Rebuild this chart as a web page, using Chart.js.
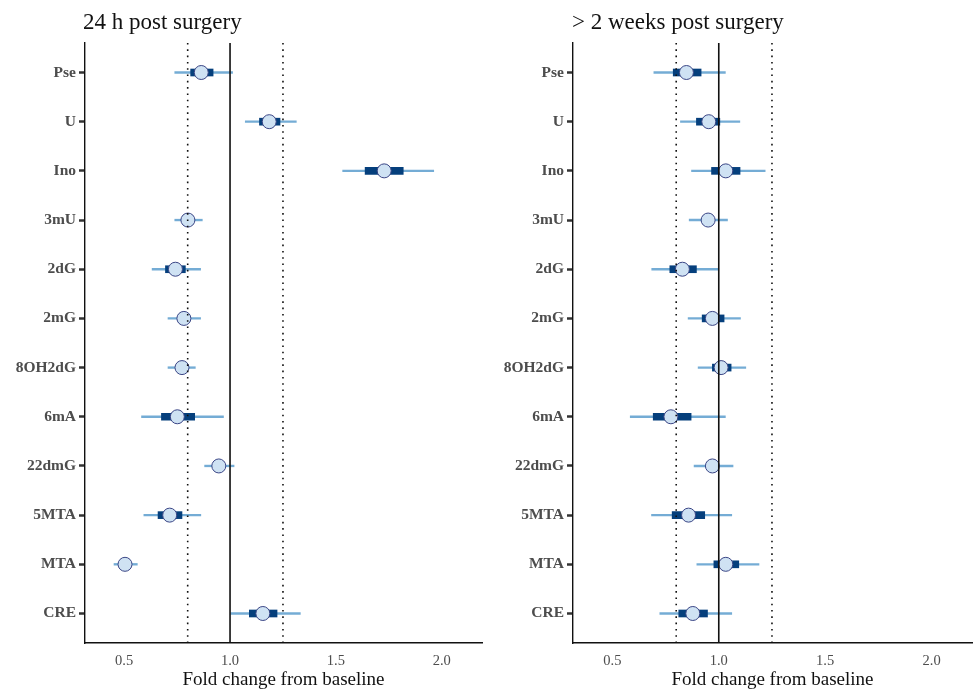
<!DOCTYPE html>
<html><head><meta charset="utf-8">
<script src="https://cdn.jsdelivr.net/npm/chart.js@4.4.1/dist/chart.umd.min.js"></script>
<style>
html,body{margin:0;padding:0;background:#fff;width:973px;height:691px;overflow:hidden;position:relative;}
#c1{position:absolute;left:0;top:0;}
#c2{position:absolute;left:490px;top:0;}
.ttl{position:absolute;top:10px;font-family:"Liberation Serif","Times New Roman",serif;font-size:23px;line-height:23px;color:#111;white-space:nowrap;}
</style></head><body>
<canvas id="c1" width="490" height="691"></canvas>
<canvas id="c2" width="490" height="691"></canvas>
<div class="ttl" style="left:83px">24 h post surgery</div>
<div class="ttl" style="left:572px">&gt; 2 weeks post surgery</div>
<script>
const categories = ["Pse","U","Ino","3mU","2dG","2mG","8OH2dG","6mA","22dmG","5MTA","MTA","CRE"];
const xTicks = [0.5, 1.0, 1.5, 2.0];
const refSolid = [1.0];
const refDotted = [0.8, 1.25];
const panelTitles = ["24 h post surgery", "> 2 weeks post surgery"];
const xTitle = "Fold change from baseline";

// 24 h post surgery
const h24_est   = [0.864, 1.185, 1.728, 0.801, 0.742, 0.782, 0.773, 0.751, 0.947, 0.715, 0.504, 1.155];
const h24_lo95  = [0.739, 1.072, 1.532, 0.739, 0.632, 0.707, 0.707, 0.582, 0.880, 0.593, 0.452, 1.003];
const h24_hi95  = [1.012, 1.313, 1.962, 0.869, 0.861, 0.861, 0.836, 0.969, 1.019, 0.862, 0.562, 1.332];
const h24_lo50  = [0.814, 1.139, 1.638, 0.778, 0.695, 0.755, 0.750, 0.676, 0.925, 0.660, 0.485, 1.091];
const h24_hi50  = [0.920, 1.236, 1.818, 0.823, 0.789, 0.810, 0.795, 0.833, 0.970, 0.773, 0.525, 1.222];

// > 2 weeks post surgery
const w2_est    = [0.848, 0.953, 1.033, 0.950, 0.829, 0.970, 1.011, 0.775, 0.970, 0.858, 1.033, 0.878];
const w2_lo95   = [0.695, 0.820, 0.872, 0.861, 0.685, 0.856, 0.903, 0.584, 0.884, 0.684, 0.897, 0.723];
const w2_hi95   = [1.031, 1.099, 1.218, 1.041, 1.000, 1.102, 1.127, 1.031, 1.067, 1.061, 1.189, 1.061];
const w2_lo50   = [0.786, 0.895, 0.966, 0.925, 0.770, 0.922, 0.970, 0.692, 0.950, 0.781, 0.977, 0.812];
const w2_hi50   = [0.917, 1.005, 1.100, 0.975, 0.895, 1.025, 1.058, 0.870, 0.990, 0.934, 1.094, 0.947];

const SERIF = '"Liberation Serif","Times New Roman",serif';
const Y_MIN = -0.6, Y_MAX = categories.length - 1 + 0.6;

function refLine(v, dotted) {
  return {
    type: 'line',
    data: [{x: v, y: Y_MIN}, {x: v, y: Y_MAX}],
    borderColor: '#111',
    borderWidth: dotted ? 1.6 : 1.6,
    borderDash: dotted ? [1.6, 4.7] : [],
    pointRadius: 0,
    fill: false,
    order: 1
  };
}

function makeChart(id, est, lo95, hi95, lo50, hi50, yWidth, padRight) {
  const datasets = [
    {
      type: 'bar', stack: 's', order: 4,
      data: categories.map((c, i) => ({y: i, x: [lo95[i], hi95[i]]})),
      backgroundColor: '#74acd5', borderWidth: 0, barThickness: 1.7
    },
    {
      type: 'bar', stack: 's', order: 3,
      data: categories.map((c, i) => ({y: i, x: [lo50[i], hi50[i]]})),
      backgroundColor: '#053f7c', borderWidth: 0, barThickness: 7
    },
    {
      type: 'scatter', order: 2,
      data: categories.map((c, i) => ({x: est[i], y: i})),
      pointRadius: 7, pointBackgroundColor: '#cfe2f3', pointBorderColor: '#3a4585', pointBorderWidth: 1
    }
  ];
  refSolid.forEach(v => datasets.push(refLine(v, false)));
  refDotted.forEach(v => datasets.push(refLine(v, true)));

  return new Chart(document.getElementById(id), {
    type: 'bar',
    data: {datasets},
    options: {
      indexAxis: 'y',
      responsive: false,
      animation: false,
      devicePixelRatio: 1,
      layout: {padding: {top: 43, right: padRight, left: 0, bottom: 0}},
      plugins: {legend: {display: false}, tooltip: {enabled: false}, title: {display: false}},
      scales: {
        x: {
          type: 'linear', min: 0.315, max: 2.19, stacked: false,
          afterBuildTicks: s => { s.ticks = xTicks.map(v => ({value: v})); },
          afterFit: s => { s.height = 48; },
          grid: {display: false, drawTicks: false},
          border: {display: true, color: '#111', width: 1.4},
          ticks: {
            padding: 9, color: '#4d4d4d',
            font: {family: SERIF, size: 14.5},
            callback: v => Number(v).toFixed(1)
          },
          title: {display: true, text: xTitle, color: '#111', font: {family: SERIF, size: 19}, padding: {top: 0, bottom: 0}}
        },
        y: {
          type: 'linear', min: Y_MIN, max: Y_MAX, reverse: true, offset: false,
          afterBuildTicks: s => { s.ticks = categories.map((c, i) => ({value: i})); },
          afterFit: s => { s.width = yWidth; },
          grid: {display: true, drawOnChartArea: false, drawTicks: true, offset: false, tickLength: 6, tickWidth: 2.5, tickColor: '#333', color: '#333'},
          border: {display: true, color: '#111', width: 1.4},
          ticks: {
            autoSkip: false, padding: 3, color: '#4d4d4d',
            font: {family: SERIF, size: 15.5, weight: 'bold'},
            callback: v => categories[v]
          }
        }
      }
    }
  });
}

makeChart('c1', h24_est, h24_lo95, h24_hi95, h24_lo50, h24_hi50, 85, 7);
makeChart('c2', w2_est, w2_lo95, w2_hi95, w2_lo50, w2_hi50, 83, 7);
</script>
</body></html>
